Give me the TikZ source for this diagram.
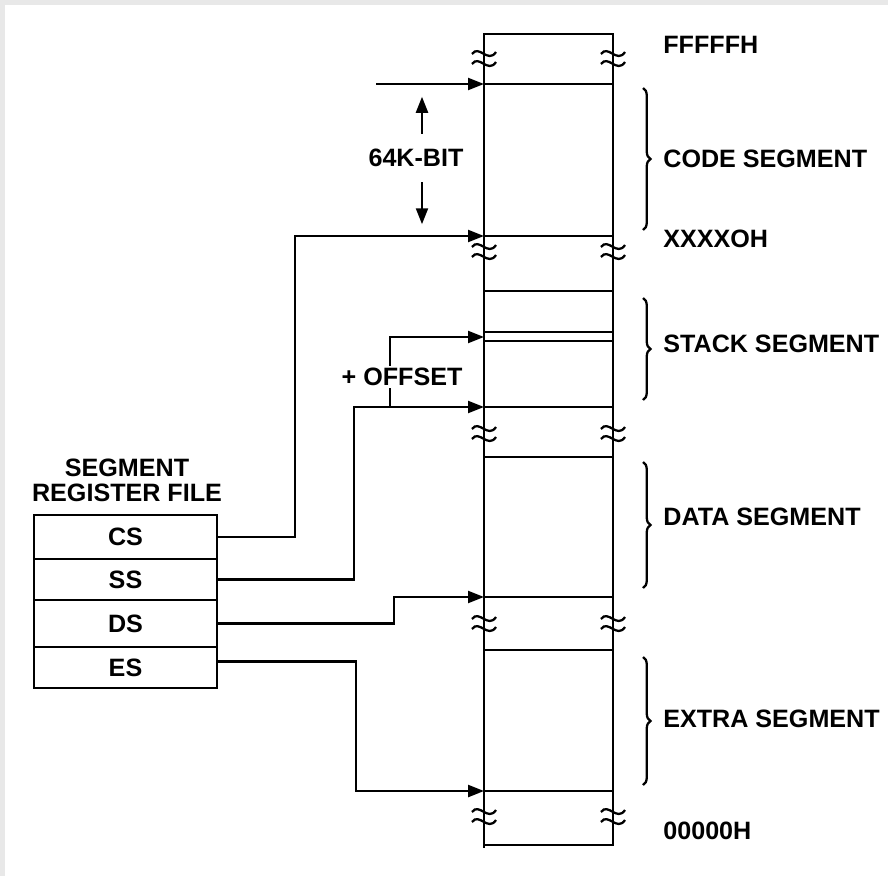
\documentclass[tikz,border=0pt]{standalone}
\usepackage{fontspec}
\setmainfont{Liberation Sans}
\usetikzlibrary{arrows.meta,decorations.pathreplacing,calc}
\definecolor{framegray}{rgb}{0.91, 0.91, 0.91}
\newcommand\diafont{\fontsize{14.3}{14.2}\selectfont\bfseries}
\tikzstyle{memline} = [line width=1.3pt, line cap=rect]
\tikzstyle{conn} = [line width=1.3pt, -{Triangle[length=3.2mm,width=2.4mm]}]
\tikzstyle{reg} = [rectangle, draw, line width=1.3pt, minimum width=3.66cm, inner sep=0pt, font=\diafont]
\tikzstyle{lbl} = [anchor=west, inner sep=0pt, font=\diafont]
\tikzstyle{segbrace} = [line width=1.3pt, decorate, decoration={brace, amplitude=0.15cm}]
\tikzset{brk/.pic={
    \draw[line width=1.3pt] (-12,-3) .. controls (-5,-13) and (4,7) .. (12,-5);
    \draw[line width=1.3pt] (-12,7) .. controls (-5,-3) and (4,17) .. (12,5);
}}

\begin{document}
\begin{tikzpicture}[x=0.02cm, y=-0.02cm, font=\diafont]
\useasboundingbox (0,0) rectangle (888,876);
% frame
\fill[framegray] (0,0) rectangle (888,876);
\fill[white] (5,5) rectangle (888,876);

    % Memory column
    \draw[memline] (484,847) -- (484,34) -- (613,34) -- (613,845) -- (484,845);
    \foreach \yy in {84,236,291,332,341,407,457,597,650,791}
        \draw[memline] (484,\yy) -- (613,\yy);

    % breaks
    \foreach \yy in {57,250,432,622,815} {
        \pic at (484,\yy) {brk};
        \pic at (613,\yy) {brk};
    }

    % segment boundaries
    \coordinate (codetop) at (484,84);
    \coordinate (codebot) at (484,236);
    \coordinate (stackptr) at (484,337);
    \coordinate (stackbot) at (484,407);
    \coordinate (datbot) at (484,597);
    \coordinate (extbot) at (484,791);
    \coordinate (topin) at (376,84);
    \coordinate (offj) at (390,407);

    % Braces and labels
    \draw[segbrace] (643,88) -- (643,230);
    \draw[segbrace] (643,298) -- (643,400);
    \draw[segbrace] (643,462) -- (643,588);
    \draw[segbrace] (643,657) -- (643,785);

    \node (ffff) at (663,45) [lbl] {FFFFFH};
    \node (code) at (663,159) [lbl] {CODE SEGMENT};
    \node (xxxx) at (663,239) [lbl] {XXXXOH};
    \node (stack) at (663,344) [lbl] {STACK SEGMENT};
    \node (data) at (663,517) [lbl] {DATA SEGMENT};
    \node (extra) at (663,719) [lbl] {EXTRA SEGMENT};
    \node (zero) at (663,831) [lbl] {00000H};

    % 64K-BIT
    \node (kbit) at (416,158) [inner xsep=0pt, inner ysep=0.3cm] {64K-BIT};
    \draw[conn] ([xshift=0.12cm]kbit.north) -- ++(0,-37);
    \draw[conn] ([xshift=0.12cm]kbit.south) -- ++(0,42);

    % Segment register file
    \node (title) at (127,480) [align=center] {SEGMENT\\REGISTER FILE};
    \node (cs) at (125.5,537) [reg, minimum height=0.88cm] {CS};
    \node (ss) at (125.5,579.5) [reg, minimum height=0.82cm] {SS};
    \node (ds) at (125.5,623.5) [reg, minimum height=0.94cm] {DS};
    \node (es) at (125.5,667.5) [reg, minimum height=0.82cm] {ES};

    % Arrows to memory
    \draw[conn] (topin) -- (codetop);
    \draw[conn] (cs.east) -- ++(77,0) |- (codebot);
    \draw[conn] (ss.east) -- ++(136,0) |- (stackbot);
    \draw[conn] (offj) |- (stackptr);
    \node (offset) at (402,377) [fill=white, inner sep=1pt] {+ OFFSET};
    \draw[conn] (ds.east) -- ++(176,0) |- (datbot);
    \draw[conn] ([yshift=0.12cm]es.east) -- ++(138,0) |- (extbot);

\end{tikzpicture}
\end{document}
